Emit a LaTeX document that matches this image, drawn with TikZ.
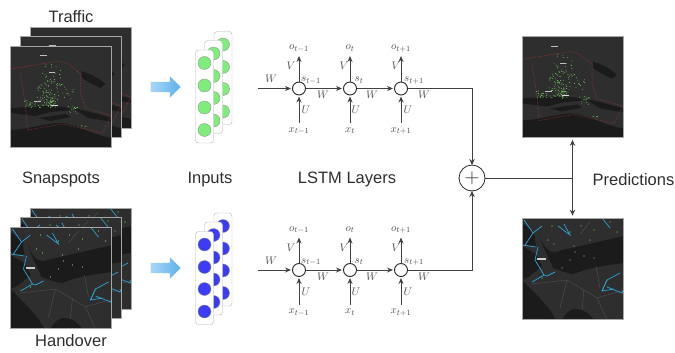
\documentclass[tikz,border=0pt]{standalone}
\usepackage{fontspec}
\setmainfont{Liberation Sans}
\definecolor{mapland}{RGB}{47,46,46}
\definecolor{mapwater}{RGB}{27,27,27}
\definecolor{maproad}{RGB}{82,82,82}
\definecolor{mapred}{RGB}{176,58,54}
\definecolor{mapgreen}{RGB}{120,222,104}
\definecolor{mapblue}{RGB}{44,165,210}
\definecolor{cellgreen}{RGB}{128,236,124}
\definecolor{cellblue}{RGB}{60,60,245}
\definecolor{flowlight}{RGB}{168,214,245}
\definecolor{flowdark}{RGB}{92,176,236}
\definecolor{darktext}{RGB}{45,45,45}
\usetikzlibrary{arrows.meta,shapes.arrows,positioning,calc}

\newcommand{\trafficdraw}{%
  \begin{scope}
    \pgftransformshift{\pgfpoint{-50.5pt}{50.5pt}}
    \fill[mapwater] (0,84) .. controls (20,83) and (40,76) .. (52,77) .. controls (70,80) and (85,90) .. (102,92) -- (102,102) -- (0,102) -- cycle;
    \fill[mapwater] (0,62) -- (30,60) -- (55,61) -- (62,64) -- (40,66) -- (25,70) -- (0,67) -- cycle;
    \fill[mapwater] (28,72) -- (55,68) -- (60,71) -- (40,75) -- cycle;
    \fill[mapwater] (62,62) -- (80,66) -- (102,72) -- (102,76) -- (78,72) -- cycle;
    \fill[mapwater] (71,25) .. controls (80,28) and (85,30) .. (95,38) -- (90,42) .. controls (82,38) and (76,36) .. (71,31) -- cycle;
    \draw[mapred,densely dotted,line width=0.5pt] (0,23) -- (48,15) -- (58,18) -- (70,28) -- (70,47) -- (75,62) -- (102,70);
    \draw[mapred,densely dotted,line width=0.5pt] (10,27) -- (15,60) -- (17,84) -- (52,78) -- (92,87) -- (102,68);
    \pgfmathsetseed{41}
    \foreach \cx/\cy/\sx/\sy/\num in {40/28/10/12/30, 45/46/18/8/60, 28/58/16/4/40, 41/57/4/5/25, 62/64/6/4/14, 72/80/4/1/4}{
      \foreach \i in {1,...,\num}{
        \pgfmathsetmacro{\dotx}{\cx+\sx*rand}
        \pgfmathsetmacro{\doty}{\cy+\sy*rand}
        \fill[mapgreen] (\dotx,\doty) circle (0.45);
      }
    }
    \fill[black!25] (29,9.5) rectangle (36,10.5);
    \fill[black!25] (38,26.5) rectangle (44,27.5);
    \fill[black!25] (23,54.5) rectangle (30,55.5);
    \fill[black!15] (40,59) rectangle (47,60);
  \end{scope}}

\newcommand{\handoverdraw}{%
  \begin{scope}
    \pgftransformshift{\pgfpoint{-50.5pt}{50.5pt}}
    \fill[mapwater] (17,14) .. controls (20,30) and (28,38) .. (40,32) .. controls (60,28) and (75,24) .. (102,18) -- (102,45) .. controls (85,47) and (65,50) .. (52,56) .. controls (45,56) and (38,52) .. (31,50) .. controls (25,35) and (20,30) .. cycle;
    \fill[mapwater] (0,5) -- (12,14) -- (14,28) -- (0,26) -- cycle;
    \fill[mapwater] (0,28) -- (14,36) -- (20,48) -- (8,58) -- (0,62) -- cycle;
    \fill[mapwater] (0,62) .. controls (10,72) and (20,82) .. (28,92) -- (34,102) -- (0,102) -- cycle;
    \fill[mapwater] (40,102) .. controls (44,94) and (50,90) .. (56,91) .. controls (62,92) and (68,96) .. (72,102) -- cycle;
    \draw[maproad,line width=0.4pt] (10,66) -- (45,62) -- (75,80) -- (102,72);
    \draw[maproad,line width=0.4pt] (45,62) -- (38,90);
    \draw[maproad,line width=0.4pt] (62,71) -- (60,92);
    \draw[maproad,line width=0.4pt] (74,48) -- (78,70);
    \draw[maproad,line width=0.4pt] (75,80) -- (85,102);
    \draw[maproad,line width=0.4pt] (58,16) -- (68,4);
    \draw[mapblue,line width=0.7pt] (2,2) -- (11,15) -- (3,27);
    \draw[mapblue,line width=0.7pt] (11,15) -- (20,8);
    \draw[mapblue,line width=0.7pt] (16,29) -- (13,42) -- (22,57) -- (10,64);
    \draw[mapblue,line width=0.7pt] (22,57) -- (25,58) -- (33,54);
    \draw[mapblue,line width=0.7pt] (0,27) -- (14,29);
    \draw[mapblue,line width=0.7pt] (36,8) -- (48,17) -- (42,6);
    \draw[mapblue,line width=0.7pt] (80,0) -- (88,10);
    \draw[mapblue,line width=0.7pt] (80,73) -- (85,62) -- (98,55);
    \draw[mapblue,line width=0.7pt] (85,69) -- (100,75) -- (102,70);
    \draw[mapblue,line width=0.7pt] (85,62) -- (80,73) -- (92,71);
    \foreach \dotx/\doty in {26/22,32/26,48/14,52/28,68/22,72/12,59/8,95/14,40/50,20/60,53/34,62/38,88/4,30/8,48/42,72/40}{
      \fill[mapgreen] (\dotx,\doty) circle (0.6);
    }
    \fill[black!20] (15,40) rectangle (24,42);
  \end{scope}}

\begin{document}
\begin{tikzpicture}[
    x=1pt,
    y=-1pt,
    every node/.style={font=\fontsize{16.5}{19}\selectfont, text=darktext},
    mapbox/.style={rectangle, draw=black!35, line width=0.7pt, fill=mapland, inner sep=0pt, minimum size=101pt},
    trafficmap/.style={mapbox, path picture={\trafficdraw}},
    handovermap/.style={mapbox, path picture={\handoverdraw}},
    inputbar/.style={rectangle, rounded corners=3pt, draw=black!30, fill=white, minimum width=18pt, minimum height=93pt, inner sep=0pt},
    cell/.style={circle, draw=black!45, line width=0.3pt, minimum size=13pt, inner sep=0pt},
    flow/.style={single arrow, single arrow head extend=5.5pt, single arrow head indent=0pt, minimum height=30pt, inner xsep=0pt, inner ysep=5pt, left color=flowlight, right color=flowdark, draw=none},
    lstm/.style={circle, draw=black!85, line width=0.9pt, minimum size=13pt, inner sep=0pt, outer sep=0pt},
    lstmlabel/.style={font=\fontsize{11}{13}\selectfont, inner sep=0pt, text height=5pt, text depth=3pt, text=black!70},
    plus/.style={circle, draw=black!85, line width=0.8pt, minimum size=26pt, inner sep=0pt, outer sep=0pt, font=\fontsize{20}{20}\selectfont},
    arrow/.style={-{Stealth[length=6pt,width=5pt]},line width=0.9pt,color=black!75},
    mainarrow/.style={-{Stealth[length=6pt,width=5.5pt]},line width=1pt,color=black!75}
  ]
  \useasboundingbox (0,0) rectangle (675,353);

  % snapshots
  \node[trafficmap] (tback) at (80.5,77.5) {};
  \node[trafficmap] (tmid) at (70.5,86.5) {};
  \node[trafficmap] (tfront) at (61,96.5) {};
  \node[handovermap] (hback) at (80.5,258.5) {};
  \node[handovermap] (hmid) at (70.5,267.5) {};
  \node[handovermap] (hfront) at (61,277.5) {};
  \node (traffic) at (71,16.5) {Traffic};
  \node (handover) at (71,341) {Handover};
  \node (snapshots) at (61,179.5) {Snapspots};

  % inputs
  \foreach \row/\rowy/\rowcolor in {a/0/cellgreen, b/181.5/cellblue}{
    \foreach \col/\colx/\coly in {3/223/78, 2/213.5/87, 1/204.5/96.5}{
      \node[inputbar] (bar\col\row) at (\colx,\coly+\rowy) {};
      \foreach \k/\off in {1/-33.5, 2/-11, 3/11, 4/33.5}{
        \node[cell, fill=\rowcolor] (cell\col\k\row) at (\colx,\coly+\rowy+\off) {};
      }
    }
  }
  \node (inputs) at (210,179.5) {Inputs};
  \node[flow] (flowa) at (163,87) {};
  \node[flow] (flowb) at (163,268) {};

  % lstm layers
  \foreach \row/\rowy in {a/88.5, b/270}{
    \node[lstm] (s1\row) at (299,\rowy) {};
    \node[lstm, right=38pt of s1\row] (s2\row) {};
    \node[lstm, right=38pt of s2\row] (s3\row) {};
    \coordinate[left=34.5pt of s1\row] (in\row);

    \node[lstmlabel, above=26pt of s1\row, anchor=south, text depth=6pt] (o1\row) {$o_{t-1}$};
    \node[lstmlabel, above=26pt of s2\row, anchor=south, text depth=6pt] (o2\row) {$o_{t}$};
    \node[lstmlabel, above=26pt of s3\row, anchor=south, text depth=6pt] (o3\row) {$o_{t+1}$};
    \node[lstmlabel, below=28pt of s1\row, anchor=north, text height=9pt] (x1\row) {$x_{t-1}$};
    \node[lstmlabel, below=28pt of s2\row, anchor=north, text height=9pt] (x2\row) {$x_{t}$};
    \node[lstmlabel, below=28pt of s3\row, anchor=north, text height=9pt] (x3\row) {$x_{t+1}$};

    \node[lstmlabel] (sl1\row) at ($(s1\row)+(12,-8)$) {$s_{t-1}$};
    \node[lstmlabel] (sl2\row) at ($(s2\row)+(9,-8)$) {$s_{t}$};
    \node[lstmlabel] (sl3\row) at ($(s3\row)+(13,-8)$) {$s_{t+1}$};

    \node[lstmlabel] (w0\row) at ($(s1\row)+(-28,-7)$) {$W$};
    \node[lstmlabel] (w1\row) at ($(s1\row)+(24,9)$) {$W$};
    \node[lstmlabel] (w2\row) at ($(s2\row)+(22,9)$) {$W$};
    \node[lstmlabel] (w3\row) at ($(s3\row)+(23,9)$) {$W$};

    \foreach \i/\vx/\ux in {1/-8/7, 2/-6/6, 3/-5/7}{
      \node[lstmlabel] (v\i\row) at ($(s\i\row)+(\vx,-20)$) {$V$};
      \node[lstmlabel] (u\i\row) at ($(s\i\row)+(\ux,24)$) {$U$};
      \draw[arrow] (s\i\row.north) -- (o\i\row.south);
      \draw[arrow, shorten >=1.5pt] (x\i\row.north) -- (s\i\row.south);
    }
    \draw[arrow, shorten >=1.5pt] (in\row) -- (s1\row.west);
    \draw[arrow, shorten >=1.5pt] (s1\row.east) -- (s2\row.west);
    \draw[arrow, shorten >=1.5pt] (s2\row.east) -- (s3\row.west);
  }
  \node (layers) at (347,179.5) {LSTM Layers};

  % merge and predictions
  \node[plus] (merge) at (472,178) {$+$};
  \node[trafficmap] (ptraffic) at (572.5,87) {};
  \node[handovermap] (phandover) at (572.5,268.5) {};
  \node (predictions) at (633.5,179.5) {Predictions};
  \coordinate (branch) at (ptraffic.south |- merge);

  \draw[mainarrow] (s3a.east) -| (merge.north);
  \draw[mainarrow] (s3b.east) -| (merge.south);
  \draw[line width=1pt, color=black!75] (merge.east) -- (branch);
  \draw[mainarrow, line width=1.3pt, shorten >=2pt] (branch) -- (ptraffic.south);
  \draw[mainarrow, line width=1.3pt, shorten >=2pt] (branch) -- (phandover.north);
\end{tikzpicture}
\end{document}
